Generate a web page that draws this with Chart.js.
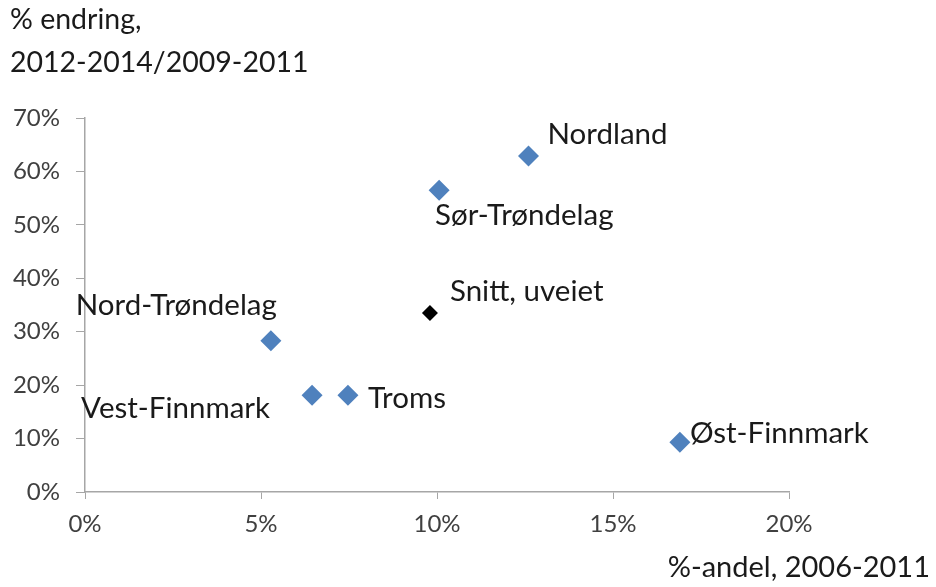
<!DOCTYPE html>
<html>
<head>
<meta charset="utf-8">
<script src="https://cdn.jsdelivr.net/npm/chart.js@4/dist/chart.umd.min.js"></script>
<style>
  html, body { margin: 0; padding: 0; background: #fff; }
  #wrap { width: 936px; height: 587px; }
</style>
</head>
<body>
<div id="wrap"><canvas id="c" width="936" height="587"></canvas></div>
<script>
// ── Data (percent) ────────────────────────────────────────────────────────────
const REGIONS  = ["Nordland", "Sør-Trøndelag", "Nord-Trøndelag", "Vest-Finnmark", "Troms", "Øst-Finnmark"];
const SHARE    = [12.6, 10.06, 5.28, 6.45, 7.47, 16.9];   // %-andel, 2006-2011
const CHANGE   = [62.9, 56.5, 28.3, 18.1, 18.1, 9.3];     // % endring
const AVG_NAME = "Snitt, uveiet";
const AVG_X    = [9.8];
const AVG_Y    = [33.5];
const X_TICKS  = [0, 5, 10, 15, 20];
const Y_TICKS  = [0, 10, 20, 30, 40, 50, 60, 70];

// ── Label placement (offset from point, px) ───────────────────────────────────
const LABEL_POS = {
    "Nordland":       { dx: 19,  dy: -21, align: "left"  },
    "Sør-Trøndelag":  { dx: -4,  dy: 25,  align: "left"  },
    "Nord-Trøndelag": { dx: 6,   dy: -35, align: "right" },
    "Vest-Finnmark":  { dx: -42, dy: 13,  align: "right" },
    "Troms":          { dx: 20,  dy: 3,   align: "left"  },
    "Øst-Finnmark":   { dx: 10,  dy: -9,  align: "left"  },
    "Snitt, uveiet":  { dx: 20,  dy: -22, align: "left"  },
};

const FONT  = "Lato, 'Open Sans', sans-serif";
const INK   = "#1a1a1a";
const AXIS  = "#a6a6a6";
const BLUE  = "#4f81bd";

// ── Plugin : point labels + axis titles ───────────────────────────────────────
const labelsPlugin = {
    id: 'pointLabels',
    afterDatasetsDraw(chart) {
        const ctx = chart.ctx;
        ctx.save();
        ctx.fillStyle = INK;
        ctx.font = `29.5px ${FONT}`;
        ctx.textBaseline = 'middle';
        chart.data.datasets.forEach((ds, di) => {
            const meta = chart.getDatasetMeta(di);
            meta.data.forEach((pt, i) => {
                const name = ds.names[i];
                const p = LABEL_POS[name];
                ctx.textAlign = p.align;
                ctx.fillText(name, pt.x + p.dx, pt.y + p.dy);
            });
        });

        // axis titles
        ctx.font = `28.5px ${FONT}`;
        ctx.textAlign = 'left';
        ctx.fillText("% endring,", 10, 20);
        ctx.fillText("2012-2014/2009-2011", 10, 63);
        ctx.font = `29px ${FONT}`;
        ctx.textAlign = 'right';
        ctx.fillText("%-andel, 2006-2011", 930, 568);
        ctx.restore();
    }
};

const pct = v => v + '%';

new Chart(document.getElementById('c'), {
    type: 'scatter',
    data: {
        datasets: [
            {
                names: REGIONS,
                data: SHARE.map((x, i) => ({ x, y: CHANGE[i] })),
                pointStyle: 'rectRot',
                pointRadius: 10.5,
                pointHoverRadius: 10.5,
                backgroundColor: BLUE,
                borderColor: BLUE,
                borderWidth: 0,
            },
            {
                names: [AVG_NAME],
                data: AVG_X.map((x, i) => ({ x, y: AVG_Y[i] })),
                pointStyle: 'rectRot',
                pointRadius: 8,
                pointHoverRadius: 8,
                backgroundColor: '#000',
                borderColor: '#000',
                borderWidth: 0,
            },
        ],
    },
    plugins: [labelsPlugin],
    options: {
        responsive: false,
        animation: false,
        layout: { padding: { left: 0, top: 118, right: 147, bottom: 0 } },
        plugins: { legend: { display: false }, tooltip: { enabled: false } },
        scales: {
            x: {
                type: 'linear',
                min: 0, max: 20,
                afterBuildTicks: s => { s.ticks = X_TICKS.map(v => ({ value: v })); },
                afterFit: s => { s.height = 95; },
                grid: { drawOnChartArea: false, tickLength: 7, color: AXIS },
                border: { color: AXIS, width: 1.5 },
                ticks: { color: '#404040', font: { family: FONT, size: 24 }, padding: 11, callback: pct },
            },
            y: {
                type: 'linear',
                min: 0, max: 70,
                afterBuildTicks: s => { s.ticks = Y_TICKS.map(v => ({ value: v })); },
                afterFit: s => { s.width = 85; },
                grid: { drawOnChartArea: false, tickLength: 9, color: AXIS },
                border: { color: AXIS, width: 1.5 },
                ticks: { color: '#404040', font: { family: FONT, size: 24 }, padding: 16, callback: pct },
            },
        },
    },
});
</script>
</body>
</html>
